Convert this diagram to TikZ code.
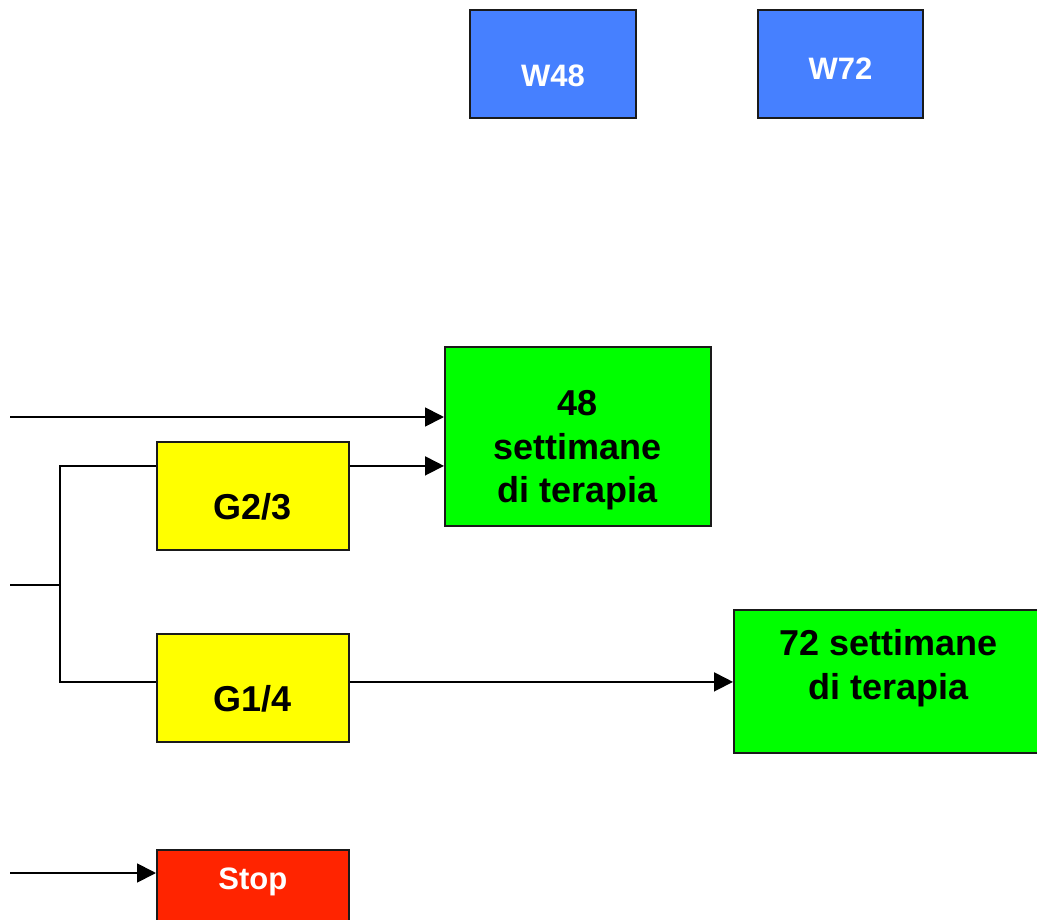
\documentclass[tikz,border=0pt]{standalone}
\usepackage{fontspec}
\setmainfont{Liberation Sans}
\usetikzlibrary{arrows.meta}
\definecolor{wblue}{RGB}{70,128,255}
\definecolor{tgreen}{RGB}{0,255,0}
\definecolor{gyellow}{RGB}{255,255,0}
\definecolor{sred}{RGB}{255,36,0}
\definecolor{edge}{RGB}{26,26,26}
\begin{document}
\begin{tikzpicture}[x=1pt,y=-1pt,
  box/.style={draw=edge,line width=1.8pt,rectangle,inner sep=0pt,anchor=north west},
  bigtxt/.style={font=\fontsize{36}{43.5}\selectfont\bfseries,align=center},
  smalltxt/.style={font=\fontsize{31}{37}\selectfont\bfseries,align=center},
  conn/.style={line width=1.8pt,draw=black},
  arr/.style={conn,-{Triangle[length=19pt,width=19pt]}}]
\useasboundingbox (0,0) rectangle (1037,920);
% top boxes
\node[box,fill=wblue,minimum width=166pt,minimum height=108pt,
  label={[smalltxt,text=white,yshift=-12pt]center:W48}] (w48) at (469,9) {};
\node[box,fill=wblue,minimum width=165pt,minimum height=108pt,
  label={[smalltxt,text=white,yshift=-4.5pt]center:W72}] (w72) at (757,9) {};
% green boxes
\node[box,fill=tgreen,minimum width=266pt,minimum height=179pt,
  label={[bigtxt,yshift=-14pt]center:48\\settimane\\di terapia}] (t48) at (444,346) {};
\node[box,fill=tgreen,minimum width=310pt,minimum height=143pt,
  label={[bigtxt,yshift=13pt]center:72 settimane\\di terapia}] (t72) at (733,609) {};
% yellow boxes
\node[box,fill=gyellow,minimum width=192pt,minimum height=108pt,
  label={[bigtxt,yshift=-11pt]center:G2/3}] (g23) at (156,441) {};
\node[box,fill=gyellow,minimum width=192pt,minimum height=108pt,
  label={[bigtxt,yshift=-11pt]center:G1/4}] (g14) at (156,633) {};
% stop
\node[box,fill=sred,minimum width=192pt,minimum height=108pt,
  label={[smalltxt,text=white,yshift=22pt]center:Stop}] (stop) at (156,849) {};
% free ends
\coordinate (in1) at (10,417);
\coordinate (in2) at (10,585);
\coordinate (j) at (60,585);
\coordinate (in3) at (10,873);
% connectors
\draw[arr] (in1) -- (in1 -| t48.west);
\draw[arr] ([yshift=30pt]g23.east) -- ([yshift=30pt]g23.east -| t48.west);
\draw[conn] (in2) -- (j);
\draw[conn] ([yshift=30pt]g23.west) -| (j) |- ([yshift=6pt]g14.west);
\draw[arr] ([yshift=6pt]g14.east) -- ([yshift=6pt]g14.east -| t72.west);
\draw[arr] (in3) -- (in3 -| stop.west);
\end{tikzpicture}
\end{document}
